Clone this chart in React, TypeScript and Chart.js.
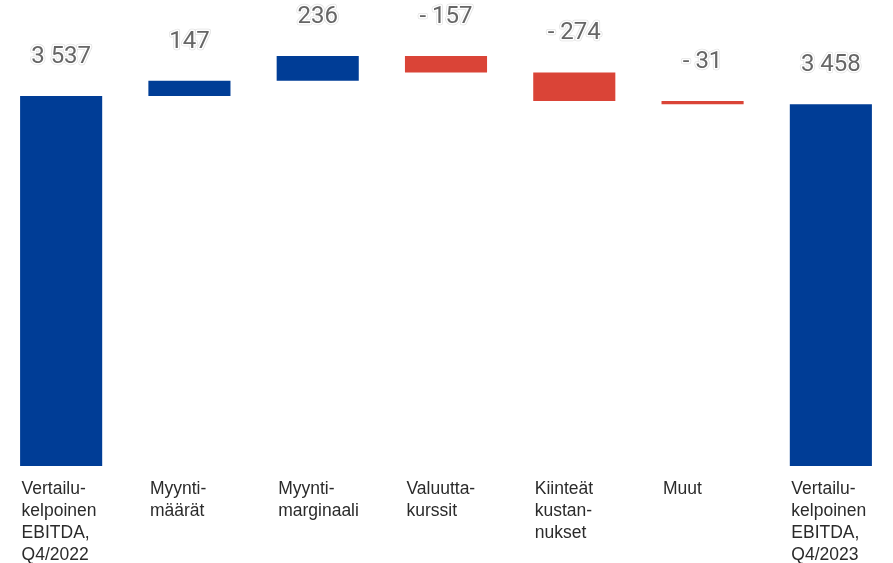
import React, { useEffect, useRef } from "react";
import { Chart, registerables } from "chart.js";

Chart.register(...registerables);

const categories: string[][] = [
  ["Vertailu-", "kelpoinen", "EBITDA,", "Q4/2022"],
  ["Myynti-", "määrät"],
  ["Myynti-", "marginaali"],
  ["Valuutta-", "kurssit"],
  ["Kiinteät", "kustan-", "nukset"],
  ["Muut"],
  ["Vertailu-", "kelpoinen", "EBITDA,", "Q4/2023"],
];
const values: number[] = [3537, 147, 236, -157, -274, -31, 3458];
const isTotal: boolean[] = [true, false, false, false, false, false, true];

const BLUE = "#003d96";
const RED = "#da4437";

function fmt(v: number): string {
  const abs = Math.abs(v);
  const s = abs.toString().replace(/\B(?=(\d{3})+(?!\d))/g, " ");
  return v < 0 ? "- " + s : s;
}

function buildRanges(): [number, number][] {
  let cum = 0;
  return values.map((v, i) => {
    if (isTotal[i]) {
      cum = v;
      return [0, v] as [number, number];
    }
    const start = cum;
    cum += v;
    return [start, cum] as [number, number];
  });
}

const labelPlugin = {
  id: "wfLabels",
  afterDatasetsDraw(chart: any) {
    const ctx = chart.ctx;
    const meta = chart.getDatasetMeta(0);
    ctx.save();
    // value labels
    ctx.font = "24px Roboto";
    ctx.textAlign = "center";
    ctx.textBaseline = "middle";
    ctx.lineJoin = "round";
    meta.data.forEach((el: any, i: number) => {
      const p = el.getProps(["x", "y", "base"], true);
      const top = Math.min(p.y, p.base);
      const ty = top - 39;
      const txt = fmt(values[i]);
      ctx.strokeStyle = "rgba(170,170,170,0.35)";
      ctx.lineWidth = 4.5;
      ctx.strokeText(txt, p.x, ty);
      ctx.strokeStyle = "#ffffff";
      ctx.lineWidth = 3;
      ctx.strokeText(txt, p.x, ty);
      ctx.fillStyle = "#666666";
      ctx.fillText(txt, p.x, ty);
    });
    // category labels
    ctx.font = "17.5px 'Liberation Sans', Arial, sans-serif";
    ctx.textAlign = "left";
    ctx.fillStyle = "#2b2b2b";
    const bottom = chart.chartArea.bottom;
    meta.data.forEach((el: any, i: number) => {
      const p = el.getProps(["x", "width"], true);
      const left = p.x - p.width / 2 + 1.5;
      categories[i].forEach((line, j) => {
        ctx.fillText(line, left, bottom + 23 + j * 22);
      });
    });
    ctx.restore();
  },
};

export default function App() {
  const ref = useRef<HTMLCanvasElement | null>(null);
  useEffect(() => {
    if (!ref.current) return;
    const ranges = buildRanges();
    const colors = values.map((v, i) => (isTotal[i] || v >= 0 ? BLUE : RED));
    const chart = new Chart(ref.current, {
      type: "bar",
      data: {
        labels: categories.map((c) => c.join(" ")),
        datasets: [
          {
            data: ranges as any,
            backgroundColor: colors,
            borderWidth: 0,
            categoryPercentage: 0.8,
            barPercentage: 0.8,
          },
        ],
      },
      options: {
        responsive: false,
        animation: false,
        layout: { padding: { top: 0, bottom: 97, left: 0, right: 0 } },
        plugins: { legend: { display: false }, tooltip: { enabled: false } },
        scales: {
          x: { display: false },
          y: { display: false, min: 0, max: 4455 },
        },
      },
      plugins: [labelPlugin],
    });
    return () => chart.destroy();
  }, []);
  return (
    <div
      style={{
        position: "fixed",
        left: 0,
        top: 0,
        width: 893,
        height: 563,
        overflow: "hidden",
        background: "#ffffff",
      }}
    >
      <canvas
        ref={ref}
        width={898}
        height={563}
        style={{ position: "absolute", left: -3, top: 0, width: 898, height: 563 }}
      />
    </div>
  );
}
